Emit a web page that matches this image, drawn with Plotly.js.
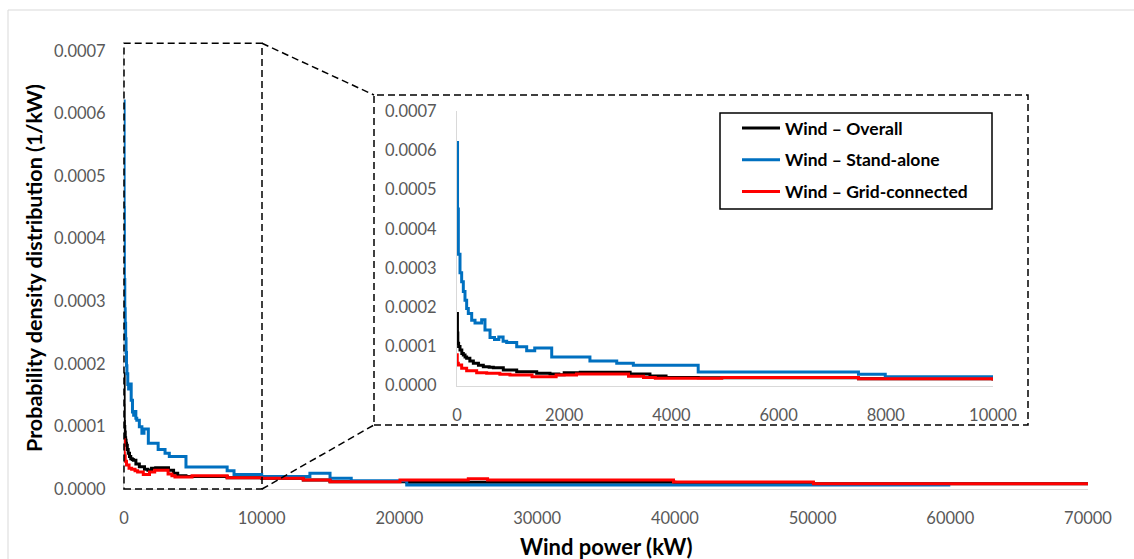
<!DOCTYPE html>
<html>
<head>
<meta charset="utf-8">
<script src="https://cdn.plot.ly/plotly-3.0.1.min.js"></script>
<style>html,body{margin:0;padding:0;background:#fff;}#chart{width:1134px;height:559px;}</style>
</head>
<body>
<div id="chart"></div>
<script>
// ---- data ----
const seriesNames = ["Wind \u2013 Overall", "Wind \u2013 Stand-alone", "Wind \u2013 Grid-connected"];
const seriesColors = ["#000000", "#0070C0", "#FF0000"];

const overallX = [0, 8, 15, 30, 56, 90, 118, 150, 180, 240, 305, 400, 491, 600, 678, 864, 1114, 1487, 1735, 1900, 2000, 2300, 2700, 3230, 3600, 3900, 4500, 7490, 10000, 13020, 14960, 20530, 40000, 50060, 70000];
const overallY = [0.000184, 0.000134, 0.000108, 0.0001, 0.000091, 0.000082, 0.000078, 0.000073, 0.00007, 0.000063, 0.000057, 0.000052, 0.0000485, 0.000047, 0.000046, 0.00004, 0.0000357, 0.0000316, 0.00003, 0.000028, 0.000033, 0.000034, 0.000034, 0.00003, 0.000025, 0.000021, 0.00002, 0.000018, 0.000017, 0.0000144, 0.0000117, 0.0000107, 0.00001, 0.0000085, 0.0000085];

const standX = [0, 10, 25, 56, 87, 118, 149, 180, 211, 274, 336, 460, 522, 616, 700, 780, 860, 927, 1114, 1300, 1450, 1767, 2480, 2980, 3290, 4500, 7490, 7990, 10000, 13500, 14960, 16500, 20530, 60000];
const standY = [0.00062, 0.00045, 0.000335, 0.000288, 0.000265, 0.00024, 0.000218, 0.000197, 0.000184, 0.000167, 0.00016, 0.000168, 0.000142, 0.000123, 0.000118, 0.000124, 0.000113, 0.00011, 0.0000994, 0.000089, 0.000096, 0.000073, 0.000063, 0.000057, 0.000052, 0.000035, 0.000029, 0.000023, 0.00002, 0.000025, 0.000017, 0.000013, 0.0000064, 0.0000064];

const gridX = [0, 5, 25, 87, 180, 367, 554, 800, 988, 1400, 1850, 2230, 3200, 3480, 3700, 4940, 7490, 10000, 13020, 14960, 20040, 25000, 26400, 39900, 50060, 70000];
const gridY = [0.000079, 0.000057, 0.0000527, 0.0000443, 0.0000382, 0.0000332, 0.0000316, 0.000029, 0.0000273, 0.000023, 0.000027, 0.00003, 0.000024, 0.000021, 0.000019, 0.000021, 0.000018, 0.000017, 0.0000144, 0.0000117, 0.0000144, 0.0000165, 0.0000144, 0.000011, 0.0000085, 0.0000085];

const mainXTicks = [0, 10000, 20000, 30000, 40000, 50000, 60000, 70000];
const insetXTicks = [0, 2000, 4000, 6000, 8000, 10000];
const yTicks = [0, 0.0001, 0.0002, 0.0003, 0.0004, 0.0005, 0.0006, 0.0007];
const xTitle = "Wind power (kW)";
const yTitle = "Probability density distribution (1/kW)";

// ---- chart ----
const W = 1134, H = 559;
const px = v => v / W;
const py = v => 1 - v / H;
const FONT = 'Lato, "Open Sans", sans-serif';

const allX = [overallX, standX, gridX];
const allY = [overallY, standY, gridY];
const traces = [];
for (let i = 0; i < 3; i++) {
  traces.push({
    x: allX[i], y: allY[i], type: 'scatter', mode: 'lines',
    line: {color: seriesColors[i], width: 3, shape: 'hv'},
    name: seriesNames[i], showlegend: false, xaxis: 'x', yaxis: 'y', hoverinfo: 'skip'
  });
}
for (let i = 0; i < 3; i++) {
  traces.push({
    x: allX[i], y: allY[i], type: 'scatter', mode: 'lines',
    line: {color: seriesColors[i], width: 3, shape: 'hv'},
    name: seriesNames[i], legendgroup: 'g' + i, showlegend: true,
    xaxis: 'x2', yaxis: 'y2', hoverinfo: 'skip'
  });
}

const tickFont = {family: FONT, size: 16.5, color: '#595959'};
const axisCommon = {
  showgrid: false, zeroline: false, showline: true, linecolor: '#d9d9d9', linewidth: 1,
  ticks: '', tickfont: tickFont, fixedrange: true
};

const dashed = {color: '#000', width: 1.5, dash: '7px,4px'};

const layout = {
  width: W, height: H,
  margin: {l: 0, r: 0, t: 0, b: 0},
  paper_bgcolor: '#fff', plot_bgcolor: 'rgba(0,0,0,0)',
  font: {family: FONT},
  showlegend: true,
  xaxis: Object.assign({}, axisCommon, {
    domain: [px(124), px(1088)], range: [0, 70000], anchor: 'y',
    tickmode: 'array', tickvals: mainXTicks, ticktext: mainXTicks.map(String), ticklabelstandoff: 14
  }),
  yaxis: Object.assign({}, axisCommon, {
    domain: [py(489), py(51)], range: [0, 0.0007], anchor: 'x',
    tickmode: 'array', tickvals: yTicks, ticktext: yTicks.map(v => v.toFixed(4)), ticklabelstandoff: 14
  }),
  xaxis2: Object.assign({}, axisCommon, {
    domain: [px(457), px(993)], range: [0, 10000], anchor: 'y2',
    tickmode: 'array', tickvals: insetXTicks, ticktext: insetXTicks.map(String), ticklabelstandoff: 14
  }),
  yaxis2: Object.assign({}, axisCommon, {
    domain: [py(385.7), py(111)], range: [0, 0.0007], anchor: 'x2',
    tickmode: 'array', tickvals: yTicks, ticktext: yTicks.map(v => v.toFixed(4)), ticklabelstandoff: 16
  }),
  legend: {
    x: px(737), y: py(110), xanchor: 'left', yanchor: 'top',
    bgcolor: 'rgba(0,0,0,0)', borderwidth: 0,
    font: {family: FONT, size: 17.5, color: '#000', weight: 'bold'},
    itemwidth: 38, tracegroupgap: 6, traceorder: 'grouped'
  },
  shapes: [
    {type: 'rect', xref: 'paper', yref: 'paper', x0: px(8), x1: 1.01, y0: -0.01, y1: py(10), line: {color: '#d9d9d9', width: 1}},
    {type: 'rect', xref: 'paper', yref: 'paper', x0: px(124), x1: px(262), y0: py(489), y1: py(43.3), line: dashed},
    {type: 'rect', xref: 'paper', yref: 'paper', x0: px(374), x1: px(1028), y0: py(425), y1: py(95), line: dashed},
    {type: 'line', xref: 'paper', yref: 'paper', x0: px(262), x1: px(374), y0: py(43.3), y1: py(95), line: dashed},
    {type: 'line', xref: 'paper', yref: 'paper', x0: px(262), x1: px(374), y0: py(489), y1: py(425), line: dashed},
    {type: 'rect', xref: 'paper', yref: 'paper', x0: px(720), x1: px(992), y0: py(209), y1: py(113), line: {color: '#000', width: 1.5}}
  ],
  annotations: [
    {text: '<b>' + xTitle + '</b>', xref: 'paper', yref: 'paper', x: px(606), y: py(546.7), showarrow: false,
     xanchor: 'center', yanchor: 'middle', font: {family: FONT, size: 22, color: '#000'}},
    {text: '<b>' + yTitle + '</b>', xref: 'paper', yref: 'paper', x: px(34), y: py(268), showarrow: false,
     textangle: -90, xanchor: 'center', yanchor: 'middle', font: {family: FONT, size: 21.5, color: '#000'}}
  ]
};

Plotly.newPlot('chart', traces, layout, {staticPlot: true, displayModeBar: false});
</script>
</body>
</html>
